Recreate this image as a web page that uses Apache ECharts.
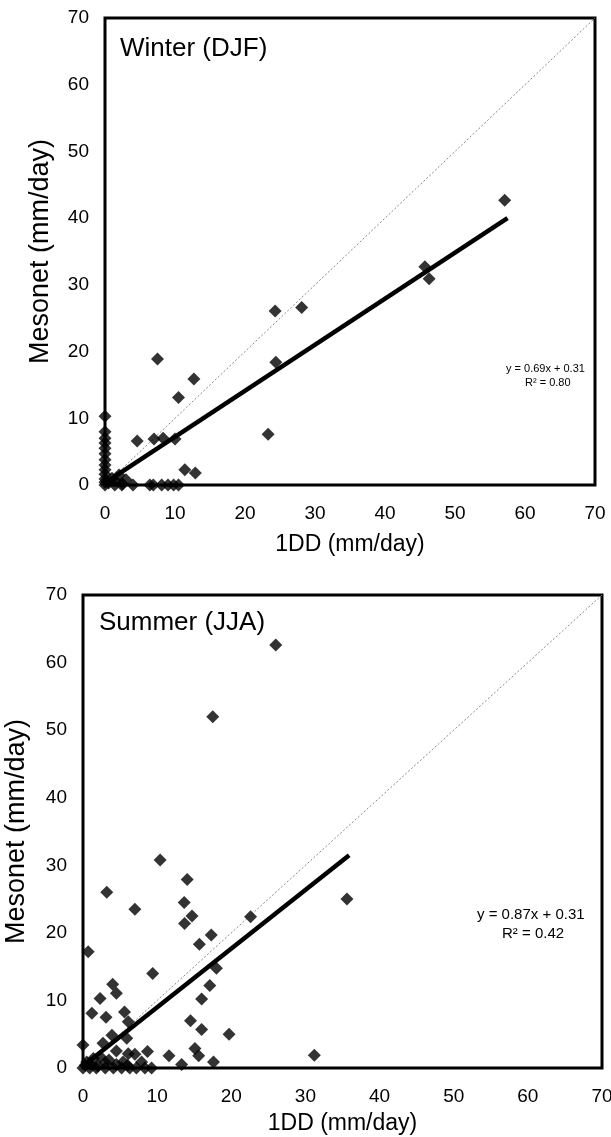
<!DOCTYPE html>
<html><head><meta charset="utf-8">
<script src="https://cdn.jsdelivr.net/npm/echarts@6/dist/echarts.min.js"></script>
<style>html,body{margin:0;padding:0;background:#fff}#c{width:611px;height:1137px}</style>
</head><body><div id="c"></div>
<script>
// ---- Winter (DJF) ----
const winterX = [0,0,0,0,0,0,0,0,0,0,0,0,0, 0.5,1,1.5,2,2.5,3, 1.4,2.4,4.0,6.4,6.9,8.1,9.0,9.8,10.5, 4.6,7.0,8.3,10.0, 11.4,12.9, 7.5,10.5,12.7, 23.3,24.3,24.4,28.1, 45.7,46.3,57.1];
const winterY = [10.3,8.0,7.0,6.3,5.5,4.7,3.8,3.0,2.3,1.6,0.9,0.4,0, 0.3,1.0,0.6,1.5,0.2,0.8, 0,0,0,0,0,0,0,0,0, 6.6,6.9,7.0,6.9, 2.3,1.8, 18.9,13.1,15.9, 7.6,26.1,18.4,26.6, 32.7,30.9,42.7];
const winterFitX = [0, 57.5];
const winterFitY = [0.31, 40.0];
const winterEq = ['y = 0.69x + 0.31', 'R\u00B2 = 0.80'];

// ---- Summer (JJA) ----
const summerX = [26.0,17.5, 10.4,14.05,3.2,7.0,13.65,14.7,13.7,22.6,35.6,17.3,15.7,0.7,18.0,9.4,17.1,4.0,4.5,2.3,16.0,
  1.2,3.1,5.6,6.1,14.5,16.0,19.7,3.9,5.9,0,2.7,4.5,8.7,6.1,7.0,11.6,15.1,15.6,13.3,17.6,31.2,
  3.5,1.4,2.3,0.5,5.4,7.9,0.3,1.0,2.0,3.0,4.5,6.0,
  0,0.9,1.8,3.0,4.1,5.2,6.3,7.2,8.35,9.25];
const summerY = [62.6,52.0, 30.8,27.9,26.0,23.5,24.5,22.5,21.4,22.4,25.0,19.7,18.3,17.2,14.75,14.0,12.2,12.4,11.05,10.3,10.2,
  8.1,7.5,8.3,6.85,7.0,5.7,5.0,4.85,4.4,3.4,3.65,2.5,2.45,2.1,2.05,1.8,2.9,1.8,0.5,0.9,1.9,
  1.2,1.4,1.7,0.9,0.9,0.9,0.4,0.6,0.3,0.8,0.5,0.4,
  0,0,0,0,0,0,0,0,0,0];
const summerFitX = [0, 35.9];
const summerFitY = [0.31, 31.5];
const summerEq = ['y = 0.87x + 0.31', 'R\u00B2 = 0.42'];

const identityX = [0, 70];
const identityY = [0, 70];
const tickValues = [0,10,20,30,40,50,60,70];
const xTitle = '1DD (mm/day)';
const yTitle = 'Mesonet (mm/day)';
const panelTitles = ['Winter (DJF)', 'Summer (JJA)'];

const FONT = "'Liberation Sans', Arial, sans-serif";
const zip = (a, b) => a.map((v, i) => [v, b[i]]);

function xAxisFor(gi, gap) {
  return {
    gridIndex: gi, type: 'value', min: tickValues[0], max: tickValues[tickValues.length-1], interval: 10,
    axisLine: {show: false}, axisTick: {show: false}, splitLine: {show: false},
    axisLabel: {fontSize: 19, color: '#000', margin: 19, fontFamily: FONT},
    name: xTitle, nameLocation: 'middle', nameGap: gap,
    nameTextStyle: {fontSize: 23, color: '#000', fontFamily: FONT}
  };
}
function yAxisFor(gi, gap) {
  return {
    gridIndex: gi, type: 'value', min: tickValues[0], max: tickValues[tickValues.length-1], interval: 10,
    axisLine: {show: false}, axisTick: {show: false}, splitLine: {show: false},
    axisLabel: {fontSize: 19, color: '#000', margin: 16, fontFamily: FONT},
    name: yTitle, nameLocation: 'middle', nameGap: gap, nameRotate: 90,
    nameTextStyle: {fontSize: 27, color: '#000', fontFamily: FONT}
  };
}
function seriesFor(idx, xs, ys, fx, fy) {
  return [
    {type: 'line', xAxisIndex: idx, yAxisIndex: idx, data: zip(identityX, identityY), showSymbol: false, silent: true,
     lineStyle: {color: '#888', width: 1, type: [2, 2]}, z: 2},
    {type: 'line', xAxisIndex: idx, yAxisIndex: idx, data: zip(fx, fy), showSymbol: false, silent: true,
     lineStyle: {color: '#000', width: 4.5}, z: 3},
    {type: 'scatter', xAxisIndex: idx, yAxisIndex: idx, data: zip(xs, ys), symbol: 'diamond', symbolSize: 13,
     clip: false, itemStyle: {color: '#000'}, z: 4}
  ];
}

const chart = echarts.init(document.getElementById('c'), null, {renderer: 'canvas'});
chart.setOption({
  animation: false,
  backgroundColor: '#fff',
  textStyle: {fontFamily: FONT},
  title: [
    {text: panelTitles[0], left: 115, top: 31, textStyle: {fontSize: 26, fontWeight: 'normal', color: '#000', fontFamily: FONT}},
    {text: panelTitles[1], left: 94, top: 605, textStyle: {fontSize: 26, fontWeight: 'normal', color: '#000', fontFamily: FONT}}
  ],
  grid: [
    {left: 105, top: 18, width: 490, height: 467, show: true, borderColor: '#000', borderWidth: 3, backgroundColor: 'transparent', containLabel: false, outerBoundsMode: 'none'},
    {left: 83, top: 595, width: 519, height: 473, show: true, borderColor: '#000', borderWidth: 3, backgroundColor: 'transparent', containLabel: false, outerBoundsMode: 'none'}
  ],
  xAxis: [xAxisFor(0, 48), xAxisFor(1, 44)],
  yAxis: [yAxisFor(0, 51), yAxisFor(1, 53)],
  graphic: [
    {type: 'text', left: 506, top: 363, style: {text: winterEq[0], fill: '#000', font: '11px ' + FONT}},
    {type: 'text', left: 525, top: 377, style: {text: winterEq[1], fill: '#000', font: '11px ' + FONT}},
    {type: 'text', left: 477, top: 907, style: {text: summerEq[0], fill: '#000', font: '15px ' + FONT}},
    {type: 'text', left: 502, top: 926, style: {text: summerEq[1], fill: '#000', font: '15px ' + FONT}}
  ],
  series: [].concat(
    seriesFor(0, winterX, winterY, winterFitX, winterFitY),
    seriesFor(1, summerX, summerY, summerFitX, summerFitY)
  )
});
</script>
</body></html>
